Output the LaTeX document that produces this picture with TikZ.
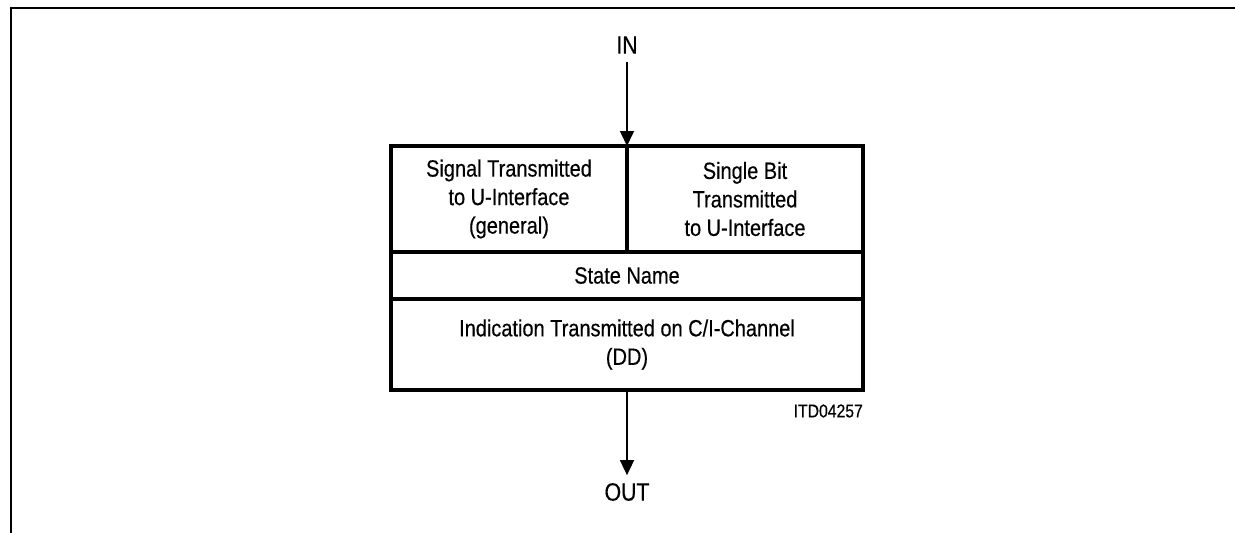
\documentclass[tikz,border=0pt]{standalone}
\usepackage{fontspec}
\setmainfont{Liberation Sans}[FakeStretch=0.85,FakeBold=0.4]
\usetikzlibrary{arrows.meta}
\begin{document}
\begin{tikzpicture}[x=1pt,y=-1pt,
  cell/.style={draw, line width=3.2pt, align=center, inner sep=0pt, outer sep=0pt,
    font=\fontsize{23.5}{28.5}\selectfont},
  lbl/.style={inner sep=0pt, outer sep=0pt, font=\fontsize{25}{30}\selectfont},
  arr/.style={line width=1.5pt, -{Triangle[length=15pt,width=14pt]}},
  frame/.style={line width=2.6pt}]
\useasboundingbox (0,0) rectangle (1235,533);
\draw[frame] (11,533) -- (11,8) -- (1235,8);
\node[cell, minimum width=236pt, minimum height=106pt] (a) at (509,199)
  {Signal Transmitted\\to U-Interface\\(general)};
\node[cell, minimum width=236pt, minimum height=106pt] (b) at (745,199)
  {Single Bit\\Transmitted\\to U-Interface};
\node[cell, minimum width=472pt, minimum height=47pt] (c) at (627,275.5)
  {State Name};
\node[cell, minimum width=472pt, minimum height=91pt] (d) at (627,344.5)
  {Indication Transmitted on C/I-Channel\\(DD)};
\node[lbl] (in) at (627,45) {IN};
\node[lbl] (out) at (627,492) {OUT};
\node[inner sep=0pt, anchor=east, font=\fontsize{18.5}{20}\selectfont] (itd) at (863,411) {ITD04257};
\draw[arr, shorten <=8pt] (in.south) -- (a.north east);
\draw[arr, shorten >=8pt] (d.south) -- (out.north);
\end{tikzpicture}
\end{document}
